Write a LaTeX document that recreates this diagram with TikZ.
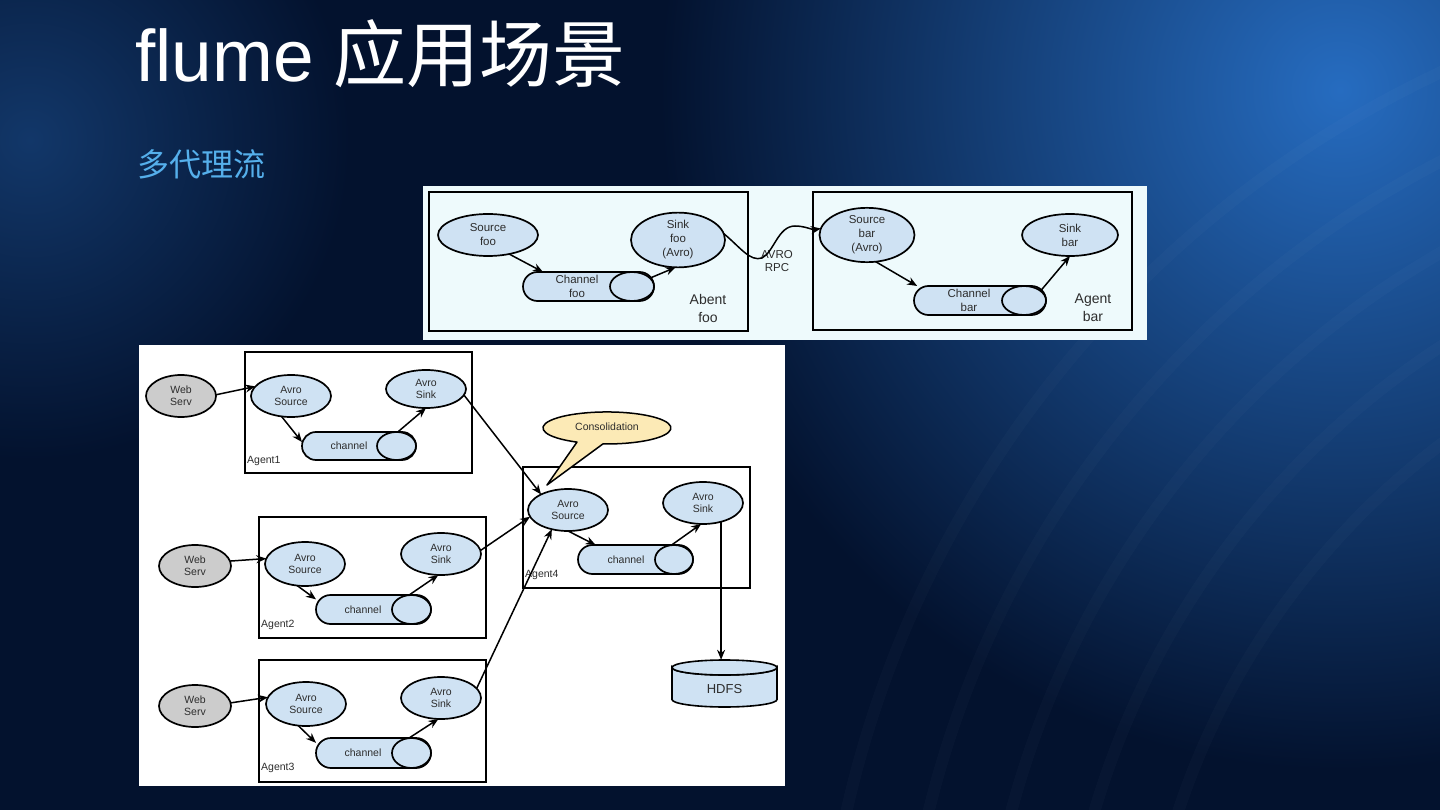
\documentclass[tikz,border=0pt]{standalone}
\usepackage{fontspec}
\setmainfont{Liberation Sans}
\newfontfamily\cjk{Noto Sans CJK SC}
\usetikzlibrary{shapes.geometric,arrows.meta}
\definecolor{bgdark}{RGB}{3,18,46}
\definecolor{bgblue}{RGB}{38,108,192}
\definecolor{bgleft}{RGB}{18,55,105}
\definecolor{nodefill}{RGB}{207,226,243}
\definecolor{webfill}{RGB}{204,204,204}
\definecolor{callfill}{RGB}{252,234,182}
\definecolor{subcol}{RGB}{85,175,235}
\definecolor{toppanel}{RGB}{238,250,252}
\definecolor{txt}{RGB}{45,45,45}
\tikzset{
  ell/.style={ellipse, draw=black, line width=1.7pt, fill=nodefill, inner sep=0pt, outer sep=0pt, align=center, text=txt},
  webell/.style={ell, fill=webfill},
  chan/.style={rectangle, draw=black, line width=1.7pt, fill=nodefill, inner sep=0pt, outer sep=0pt},
  chane/.style={ellipse, draw=black, line width=1.7pt, fill=nodefill, inner sep=0pt, outer sep=0pt},
  lbl/.style={align=center, text=txt, inner sep=0pt},
  agbox/.style={draw=black, line width=1.8pt},
  arr/.style={-{Stealth[length=10pt,width=8pt]}, line width=1.5pt, black},
  fs/.style={font=\fontsize{10.5}{12}\selectfont},
  ft/.style={font=\fontsize{11.5}{14}\selectfont},
}
\begin{document}
\begin{tikzpicture}[x=1pt,y=-1pt]
\useasboundingbox (0,0) rectangle (1440,810);
% background
\fill[bgdark] (0,0) rectangle (1440,810);
\begin{scope}
\clip (0,0) rectangle (1440,810);
\shade[inner color=bgblue, outer color=bgdark] (1340,90) circle[radius=680];
\shade[inner color=bgleft, outer color=bgdark] (30,140) circle[radius=320];
\foreach \r in {760,840,920,1000,1080}
  \draw[white, opacity=0.02, line width=12pt] (1900,1050) circle[radius=\r];
\end{scope}
% title
\node[anchor=base west, text=white, inner sep=0pt, font=\fontsize{73}{73}\selectfont] (title) at (135,82) {flume {\cjk 应用场景}};
\node[anchor=base west, text=subcol, inner sep=0pt, font=\fontsize{32}{32}\selectfont\cjk] (sub) at (137,177) {多代理流};
% panels
\fill[toppanel] (423,186) rectangle (1147,340);
\fill[white] (139,345) rectangle (785,786);
% ---------- top diagram ----------
\draw[agbox] (429,192) rectangle (748,331);
\draw[agbox] (813,192) rectangle (1132,330);
\node[ell, ft, minimum width=100, minimum height=42] (srcfoo) at (488,235) {Source\\foo};
\node[ell, ft, minimum width=94, minimum height=52] (sinkfoo) at (678,240) {Sink\\foo\\(Avro)};
\node[chan, rounded corners=14.5pt, minimum width=131, minimum height=29] (chfoo) at (588.5,286.5) {};
\node[chane, minimum width=44, minimum height=29] (chfooe) at (632,286.5) {};
\node[lbl, ft] (chfoot) at (577,286.5) {Channel\\foo};
\node[lbl, font=\fontsize{14}{18}\selectfont] (abent) at (708,308) {Abent\\foo};
\node[lbl, font=\fontsize{11.5}{13}\selectfont] (avro) at (777,261) {AVRO\\RPC};
\node[ell, ft, minimum width=95, minimum height=42] (srcbar) at (867,235) {Source\\bar\\(Avro)};
\node[ell, ft, minimum width=96, minimum height=42] (sinkbar) at (1070,235) {Sink\\bar};
\node[chan, rounded corners=14.5pt, minimum width=132, minimum height=29] (chbar) at (980,300.5) {};
\node[chane, minimum width=44, minimum height=29] (chbare) at (1024,300.5) {};
\node[lbl, ft] (chbart) at (969,300.5) {Channel\\bar};
\node[lbl, font=\fontsize{14}{18}\selectfont] (agbar) at (1093,308) {Agent\\bar};
\draw[arr] (srcfoo.-42) -- ([xshift=20pt]chfoo.north west);
\draw[arr] (chfooe.25) -- (sinkfoo.-95);
\draw[arr] (sinkfoo.8) .. controls (740,247) and (750,262) .. (762,258)
   .. controls (774,252) and (778,226) .. (795,226)
   .. controls (805,226) and (812,230) .. (srcbar.172);
\draw[arr] (srcbar.-72) -- (chbar.167);
\draw[arr] (chbare.30) -- (sinkbar.south);
% ---------- bottom diagram ----------
\draw[agbox] (245,352) rectangle (472,473);
\draw[agbox] (259,517) rectangle (486,638);
\draw[agbox] (259,660) rectangle (486,782);
\draw[agbox] (523,467) rectangle (750,588);
% agent 1
\node[webell, fs, minimum width=70, minimum height=42] (web1) at (181,396) {Web\\Serv};
\node[ell, fs, minimum width=80, minimum height=42] (src1) at (291,396) {Avro\\Source};
\node[ell, fs, minimum width=80, minimum height=38] (sink1) at (426,389) {Avro\\Sink};
\node[chan, rounded corners=14pt, minimum width=114, minimum height=28] (ch1) at (359,446) {};
\node[chane, minimum width=39, minimum height=28] (ch1e) at (396.5,446) {};
\node[lbl, fs] (ch1t) at (349,446) {channel};
\node[lbl, fs, anchor=west] (ag1) at (247,461) {Agent1};
% agent 2
\node[webell, fs, minimum width=72, minimum height=42] (web2) at (195,566) {Web\\Serv};
\node[ell, fs, minimum width=80, minimum height=44] (src2) at (305,564) {Avro\\Source};
\node[ell, fs, minimum width=80, minimum height=42] (sink2) at (441,554) {Avro\\Sink};
\node[chan, rounded corners=14.5pt, minimum width=115, minimum height=29] (ch2) at (373.5,609.5) {};
\node[chane, minimum width=39, minimum height=29] (ch2e) at (411.5,609.5) {};
\node[lbl, fs] (ch2t) at (363,609.5) {channel};
\node[lbl, fs, anchor=west] (ag2) at (261,625) {Agent2};
% agent 3
\node[webell, fs, minimum width=72, minimum height=42] (web3) at (195,706) {Web\\Serv};
\node[ell, fs, minimum width=80, minimum height=44] (src3) at (306,704) {Avro\\Source};
\node[ell, fs, minimum width=80, minimum height=42] (sink3) at (441,698) {Avro\\Sink};
\node[chan, rounded corners=15pt, minimum width=115, minimum height=30] (ch3) at (373.5,753) {};
\node[chane, minimum width=39, minimum height=30] (ch3e) at (411.5,753) {};
\node[lbl, fs] (ch3t) at (363,753) {channel};
\node[lbl, fs, anchor=west] (ag3) at (261,768) {Agent3};
% agent 4
\node[ell, fs, minimum width=80, minimum height=42] (src4) at (568,510) {Avro\\Source};
\node[ell, fs, minimum width=80, minimum height=42] (sink4) at (703,503) {Avro\\Sink};
\node[chan, rounded corners=14.5pt, minimum width=115, minimum height=29] (ch4) at (635.5,559.5) {};
\node[chane, minimum width=38, minimum height=29] (ch4e) at (674,559.5) {};
\node[lbl, fs] (ch4t) at (626,559.5) {channel};
\node[lbl, fs, anchor=west] (ag4) at (525,575) {Agent4};
% callout
\filldraw[fill=callfill, draw=black, line width=1.5pt, line join=round]
  (577,442.1) arc[start angle=117.9, end angle=453.6, x radius=64, y radius=16]
  -- (547,485) -- cycle;
\node[lbl, fs] (cons) at (607,427) {Consolidation};
% HDFS
\node[inner sep=0pt, minimum width=105, minimum height=58] (hdfs) at (724.5,689) {};
\filldraw[fill=nodefill, draw=black, line width=1.6pt]
  (672,667.5) -- (672,699.5) arc[start angle=180, end angle=0, x radius=52.5, y radius=7.5]
  -- (777,667.5) arc[start angle=0, end angle=180, x radius=52.5, y radius=7.5] -- cycle;
\draw[line width=1.6pt, fill=nodefill] (724.5,667.5) ellipse[x radius=52.5, y radius=7.5];
\node[lbl, font=\fontsize{13}{13}\selectfont] (hdfst) at (724.5,689) {HDFS};
% arrows bottom
\draw[arr] (web1.2) -- (src1.165);
\draw[arr] (src1.-115) -- (ch1.176);
\draw[arr] (ch1e.85) -- (sink1.-90);
\draw[arr] (sink1.-9) -- (src4.150);
\draw[arr] (web2.8) -- (src2.172);
\draw[arr] (src2.-110) -- (ch2.170);
\draw[arr] (ch2e.100) -- (sink2.-97);
\draw[arr] (sink2.5) -- (src4.-170);
\draw[arr] (web3.5) -- (src3.170);
\draw[arr] (src3.-110) -- (ch3.170);
\draw[arr] (ch3e.100) -- (sink3.-97);
\draw[arr] (sink3.15) -- (src4.-130);
\draw[arr] (src4.-90) -- (ch4.160);
\draw[arr] (ch4e.100) -- (sink4.-95);
\draw[arr] (sink4.-46) -- (sink4.-46 |- hdfs.north);
\end{tikzpicture}
\end{document}
